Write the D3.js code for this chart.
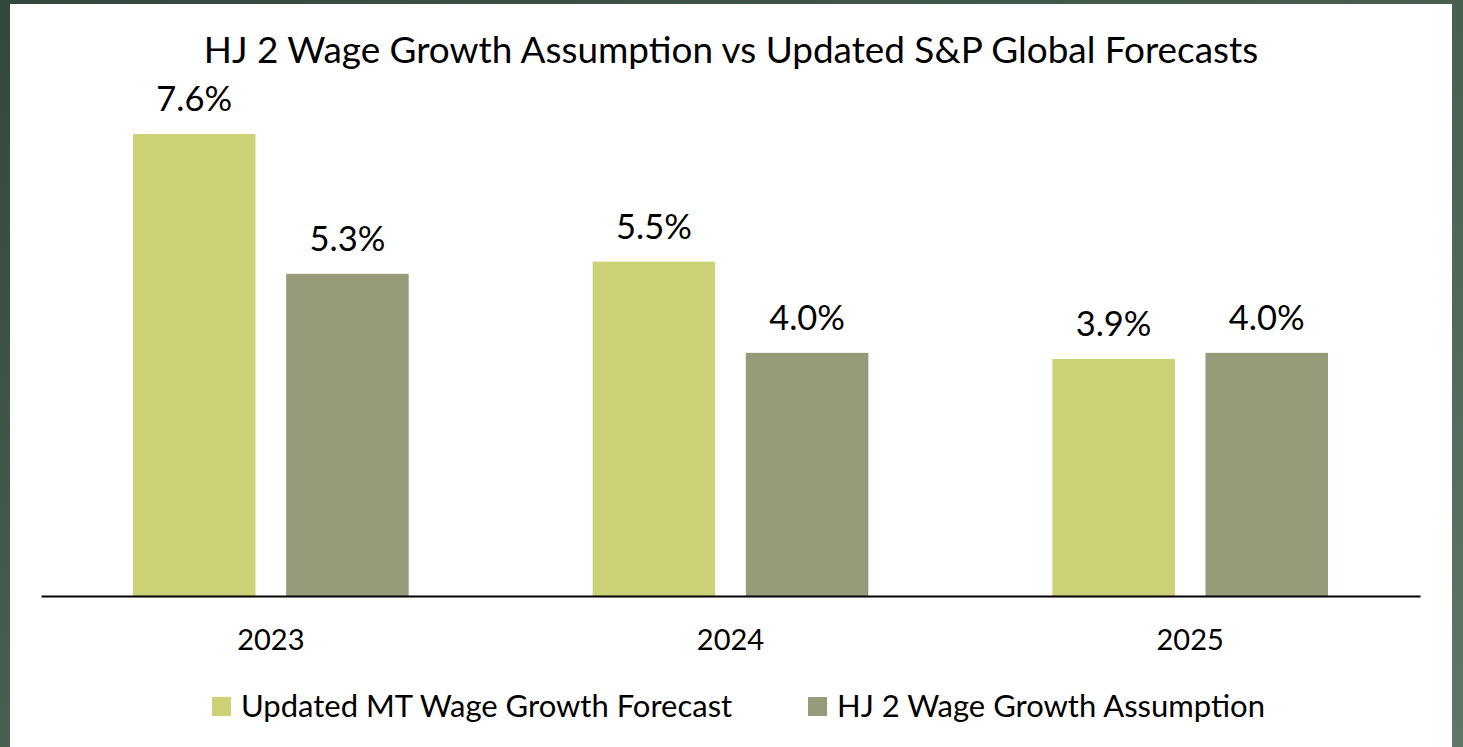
<!DOCTYPE html>
<html><head><meta charset="utf-8">
<script src="https://cdn.jsdelivr.net/npm/d3@7"></script>
<style>html,body{margin:0;padding:0;overflow:hidden;}</style>
</head><body>
<svg id="chart" width="1463" height="747"></svg>
<script>
const categories = ["2023", "2024", "2025"];
const seriesNames = ["Updated MT Wage Growth Forecast", "HJ 2 Wage Growth Assumption"];
const updatedMT = [7.6, 5.5, 3.9];
const hj2 = [5.3, 4.0, 4.0];
const labelsMT = ["7.6%", "5.5%", "3.9%"];
const labelsHJ = ["5.3%", "4.0%", "4.0%"];
const colors = ["#ccd176", "#969a78"];
const titleText = "HJ 2 Wage Growth Assumption vs Updated S&P Global Forecasts";

const svg = d3.select("#chart");
const W = 1463, H = 747;
const font = "Lato, 'Open Sans', sans-serif";

const defs = svg.append("defs");
const grad = defs.append("linearGradient").attr("id", "bg").attr("x1", "0").attr("y1", "0").attr("x2", "1").attr("y2", "1");
grad.append("stop").attr("offset", "0%").attr("stop-color", "#33473a");
grad.append("stop").attr("offset", "100%").attr("stop-color", "#5e7767");
svg.append("rect").attr("width", W).attr("height", H).attr("fill", "url(#bg)");
svg.append("rect").attr("x", 10).attr("y", 4).attr("width", 1442).attr("height", H).attr("fill", "#ffffff");

const x0 = d3.scaleBand().domain(categories).range([41, 1420]).paddingInner(0).paddingOuter(0);
const x1 = d3.scaleBand().domain([0, 1]).range([92, x0.bandwidth() - 92]).paddingInner(0.2).paddingOuter(0);
const baseline = 596;
const y = d3.scaleLinear().domain([0, 7.6]).range([baseline, 134]);

const data = categories.map((c, i) => ({cat: c, vals: [updatedMT[i], hj2[i]], labels: [labelsMT[i], labelsHJ[i]]}));

const g = svg.selectAll("g.cat").data(data).enter().append("g")
  .attr("transform", d => `translate(${x0(d.cat)},0)`);

g.selectAll("rect").data(d => d.vals.map((v, j) => ({v, j}))).enter().append("rect")
  .attr("x", d => x1(d.j)).attr("width", x1.bandwidth())
  .attr("y", d => y(d.v)).attr("height", d => baseline - y(d.v))
  .attr("fill", d => colors[d.j]);

g.selectAll("text.val").data(d => d.vals.map((v, j) => ({v, j, l: d.labels[j]}))).enter().append("text")
  .attr("class", "val")
  .attr("x", d => x1(d.j) + x1.bandwidth() / 2)
  .attr("y", d => y(d.v) - 23)
  .attr("text-anchor", "middle")
  .attr("font-family", font).attr("font-size", 34.5).attr("fill", "#000")
  .text(d => d.l);

const xAxis = d3.axisBottom(x0).tickSize(0).tickPadding(30);
const ax = svg.append("g").attr("transform", `translate(0,${baseline})`).call(xAxis);
ax.select(".domain").attr("stroke", "#000").attr("stroke-width", 2);
ax.selectAll("text").attr("font-family", font).attr("font-size", 29).attr("fill", "#000")
  .attr("y", 54).attr("dy", 0);

svg.append("text").attr("x", 731).attr("y", 63).attr("text-anchor", "middle")
  .attr("font-family", font).attr("font-size", 36.9).attr("fill", "#000").text(titleText);

const legendX = [212, 808];
const lg = svg.selectAll("g.leg").data(seriesNames).enter().append("g")
  .attr("transform", (d, i) => `translate(${legendX[i]},697)`);
lg.append("rect").attr("width", 19).attr("height", 19).attr("fill", (d, i) => colors[i]);
lg.append("text").attr("x", 29).attr("y", 20).attr("font-family", font).attr("font-size", 31).attr("fill", "#000").text(d => d);
</script>
</body></html>
